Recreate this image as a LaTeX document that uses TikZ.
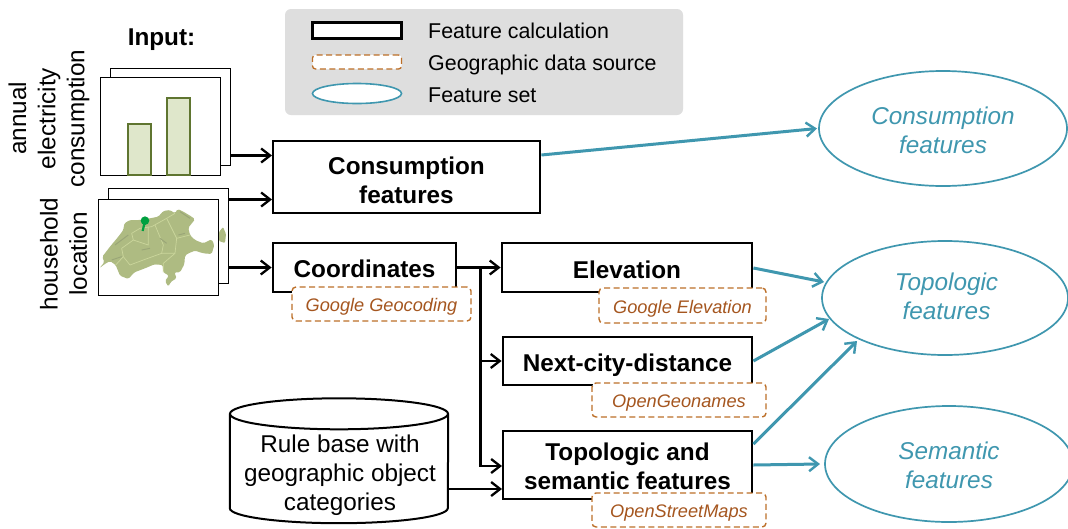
\documentclass[tikz,border=0pt]{standalone}
\usepackage{fontspec}
\setmainfont{Liberation Sans}
\usetikzlibrary{arrows.meta,calc,shapes.geometric}
\definecolor{tealc}{HTML}{3F97AF}
\definecolor{brownl}{HTML}{BC6F28}
\definecolor{brownt}{HTML}{A5561F}
\definecolor{legbg}{HTML}{DEDEDE}
\definecolor{barc}{HTML}{5F7530}
\definecolor{barf}{HTML}{DFE7CB}
\definecolor{mapc}{HTML}{AEBB82}
\definecolor{mapb}{HTML}{CBD69C}
\definecolor{mapd}{HTML}{9AA678}
\definecolor{pinc}{HTML}{00A040}
\newcommand{\fbig}{\fontsize{24.3}{29.2}\selectfont}
\newcommand{\fmid}{\fontsize{21.4}{26}\selectfont}
\newcommand{\fsmall}{\fontsize{18.2}{22}\selectfont}
\newcommand{\dn}[2][2pt]{\raisebox{-#1}[\height][\depth]{\begin{tabular}{@{}c@{}}#2\end{tabular}}}
\tikzset{
  x=1pt,y=-1pt,
  sheet/.style={draw=black,line width=1.1pt,fill=white,anchor=north west,inner sep=0pt},
  calcbox/.style={draw=black,line width=2.8pt,fill=white,inner sep=0pt,font=\fbig\bfseries},
  srcbox/.style={draw=brownl,line width=1.4pt,dash pattern=on 6pt off 3.5pt,fill=white,rounded corners=4pt,inner sep=0pt,text=brownt,font=\fsmall\itshape},
  setell/.style={ellipse,draw=tealc,line width=1.7pt,fill=white,inner sep=0pt,text=tealc,font=\fbig\itshape},
  barbar/.style={draw=barc,line width=2.2pt,fill=barf},
  flow/.style={draw=black,line width=2.6pt,-{Straight Barb[length=9pt,width=14pt,line width=2.3pt]}},
  tflow/.style={draw=tealc,line width=3pt,-{Straight Barb[length=9pt,width=14pt,line width=2.4pt]}},
  plainlab/.style={inner sep=0pt,align=center,font=\fbig},
  legtxt/.style={inner sep=0pt,anchor=base west,font=\fmid},
  mapline/.style={mapb,line width=0.7pt},
  mapdark/.style={mapd,line width=1pt},
}
\begin{document}
\begin{tikzpicture}
\useasboundingbox (0,0) rectangle (1068,528);
\fill[white] (0,0) rectangle (1068,528);
% legend
\node[fill=legbg,rounded corners=6pt,minimum width=398pt,minimum height=106pt,inner sep=0pt] (legend) at (484,62) {};
\node[draw=black,line width=2.4pt,fill=white,minimum width=89pt,minimum height=16pt,inner sep=0pt] (legA) at (357,30.5) {};
\node[draw=brownl,line width=1.3pt,dash pattern=on 6pt off 3.5pt,fill=white,rounded corners=3pt,minimum width=89pt,minimum height=14pt,inner sep=0pt] (legB) at (357,62) {};
\node[ellipse,draw=tealc,line width=1.6pt,fill=white,minimum width=89pt,minimum height=20pt,inner sep=0pt] (legC) at (357,93.5) {};
\node[legtxt] (legAt) at (428,38.5) {Feature calculation};
\node[legtxt] (legBt) at (428,70) {Geographic data source};
\node[legtxt] (legCt) at (428,102) {Feature set};
% input
\node[inner sep=0pt,font=\fbig\bfseries] (inp) at (161.5,39.5) {Input:};
\node[plainlab,rotate=90] (lab1) at (49,118.5) {annual\\electricity\\consumption};
\node[plainlab,rotate=90] (lab2) at (63.5,254) {household\\location};
% sheets 1
\node[sheet,minimum width=120pt,minimum height=97pt] (backA) at (110,67.5) {};
\node[sheet,minimum width=120pt,minimum height=98pt] (frontA) at (100,77) {};
\draw[barbar] (128,175) rectangle (151,124);
\draw[barbar] (167,175) rectangle (190,98);
% sheets 2
\node[sheet,minimum width=120pt,minimum height=95pt] (backB) at (108,188) {};
\fill[mapc,rounded corners=1pt] (219,232) -- (223,227) -- (226,234) -- (225,243) -- (219,241) -- cycle;
\node[sheet,minimum width=120pt,minimum height=96pt] (frontB) at (98,199) {};
% map
\begin{scope}[shift={(95,185)},x=0.3333pt,y=-0.3333pt]
\fill[mapc,rounded corners=1.5pt] (13,250) -- (28,232) -- (22,215) -- (45,185) -- (70,155) -- (85,135) -- (88,115) -- (105,105) -- (135,105) -- (165,100) -- (190,95) -- (205,78) -- (225,75) -- (240,85) -- (248,72) -- (265,80) -- (290,95) -- (300,103) -- (280,128) -- (285,150) -- (300,165) -- (325,175) -- (350,163) -- (358,180) -- (350,207) -- (325,205) -- (300,197) -- (280,205) -- (270,212) -- (268,238) -- (255,262) -- (238,262) -- (245,280) -- (228,290) -- (220,305) -- (210,288) -- (222,272) -- (205,262) -- (203,240) -- (178,238) -- (150,250) -- (118,262) -- (100,282) -- (75,272) -- (62,240) -- (45,228) -- (28,238) -- cycle;
\draw[mapline] (62,240) -- (85,215) -- (80,190) -- (115,165) -- (110,145) -- (135,130) -- (170,125) -- (215,100) -- (240,85);
\draw[mapline] (105,240) -- (145,225) -- (200,205) -- (205,180) -- (180,120);
\draw[mapline] (200,205) -- (240,205) -- (245,160) -- (215,100);
\draw[mapline] (105,240) -- (85,215);
\draw[mapline] (115,165) -- (160,180) -- (160,125);
\draw[mapline] (240,205) -- (205,235) -- (205,262);
\draw[mapline] (245,160) -- (285,150);
\draw[mapdark] (60,180) -- (100,150);
\draw[mapdark] (50,225) -- (80,215);
\draw[mapdark] (140,195) -- (165,190);
\draw[mapdark] (195,160) -- (215,175);
\draw[mapdark] (250,150) -- (270,145);
\draw[mapdark] (255,80) -- (285,100);
\draw[pinc,line width=2.2pt] (150,107) -- (143,138);
\fill[pinc] (150,107) circle[radius=4.3pt];
\end{scope}
% boxes
\node[calcbox,minimum width=267pt,minimum height=72pt] (cons) at (406.5,177) {\dn[6pt]{Consumption\\features}};
\node[calcbox,minimum width=183pt,minimum height=49pt] (coord) at (364.5,267.5) {\dn[4.5pt]{Coordinates}};
\node[calcbox,minimum width=250pt,minimum height=49pt] (elev) at (627,267.5) {\dn[5pt]{Elevation}};
\node[calcbox,minimum width=249pt,minimum height=48pt] (next) at (627.5,361) {\dn[4.5pt]{Next-city-distance}};
\node[calcbox,minimum width=249pt,minimum height=68pt] (topo) at (627.5,465) {\dn[4pt]{Topologic and\\semantic features}};
% sources
\node[srcbox,minimum width=179pt,minimum height=34pt] (geo) at (381.5,304) {\dn[3.5pt]{Google Geocoding}};
\node[srcbox,minimum width=167pt,minimum height=35pt] (gele) at (682.5,305.5) {\dn[3.5pt]{Google Elevation}};
\node[srcbox,minimum width=174pt,minimum height=34pt] (ogn) at (679,400) {\dn[3.5pt]{OpenGeonames}};
\node[srcbox,minimum width=174pt,minimum height=34pt] (osm) at (679,510) {\dn[3.5pt]{OpenStreetMaps}};
% cylinder
\node[inner sep=0pt,minimum width=218pt,minimum height=94pt] (rule) at (339,461) {};
\draw[line width=2pt,fill=white] (rule.north west) -- (rule.south west) arc[start angle=180,end angle=360,x radius=109pt,y radius=15pt] -- (rule.north east);
\draw[line width=2pt,fill=white] (rule.north) ellipse[x radius=109pt,y radius=15.5pt];
\node[plainlab] (ruletxt) at (340,475.5) {Rule base with\\geographic object\\categories};
% ellipses
\node[setell,minimum width=248pt,minimum height=115pt] (ec) at (943,128.5) {\dn[5pt]{Consumption\\features}};
\node[setell,minimum width=246pt,minimum height=114pt] (et) at (945,298) {\dn[1pt]{\hspace*{3pt}Topologic\\\hspace*{3pt}features}};
\node[setell,minimum width=248pt,minimum height=116pt] (es) at (949,464) {\dn[4pt]{Semantic\\features}};
% coordinates
\coordinate (consA) at (272,155.5);
\coordinate (consB) at (272,199.5);
\coordinate (topoA) at (502,466);
\coordinate (topoB) at (502,489);
\coordinate (branch) at (480.5,267.5);
\draw[flow] (backA.east |- consA) -- (consA);
\draw[flow] (backB.east |- consB) -- (consB);
\draw[flow] (backB.east |- coord.west) -- (coord.west);
\draw[flow] (coord.east) -- (elev.west);
\draw[flow] (branch) |- (next.west);
\draw[flow] (branch) |- (topoA);
\draw[flow] (rule.east |- topoB) -- (topoB);
% teal
\coordinate (tC1) at ($(cons.east)+(0,-22)$);
\coordinate (tE) at ($(elev.east)+(0,0.5)$);
\coordinate (tT1) at ($(topo.east)+(0,-21)$);
\draw[tflow] (tC1) -- (817,128.5);
\draw[tflow] (tE) -- (824,282);
\draw[tflow] (next.east) -- (829,319);
\draw[tflow] (tT1) -- (857,341);
\draw[tflow] (topo.east) -- (820,464);
\end{tikzpicture}
\end{document}
